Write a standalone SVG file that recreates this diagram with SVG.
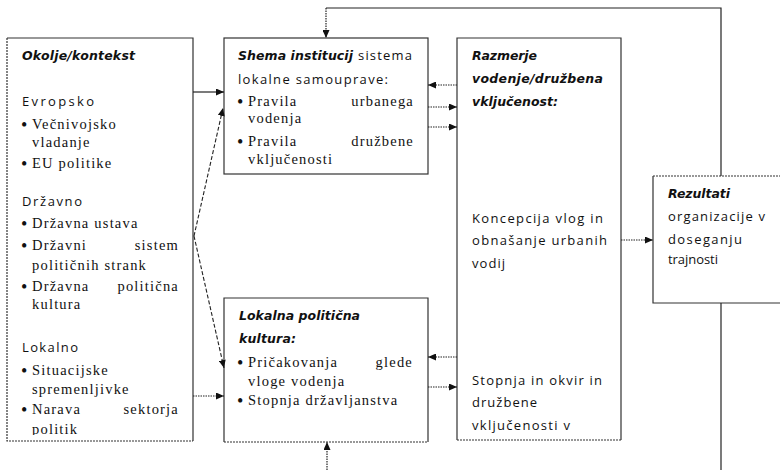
<svg xmlns="http://www.w3.org/2000/svg" width="780" height="470" viewBox="0 0 780 470">
<style>
.bg{fill:#fff}
.edge{fill:none;stroke:#333;stroke-width:1.2}
.dot{fill:none;stroke:#333;stroke-width:1.2;stroke-dasharray:2 1}
.bi{font-family:"DejaVu Sans","Liberation Sans",sans-serif;font-weight:bold;font-style:italic;font-size:12.5px;fill:#111}
.ss{font-family:"Open Sans","Noto Sans","Liberation Sans",sans-serif;font-size:13px;fill:#111}
.sf{font-family:"Liberation Serif","Times New Roman",serif;font-size:14.5px;letter-spacing:1.2px;fill:#111}
.b{font-size:18px;letter-spacing:0}
.e{text-anchor:end}
.c{fill:none;stroke:#222;stroke-width:1.2}
.cd{fill:none;stroke:#222;stroke-width:1.2;stroke-dasharray:1.5 1}
.cdash{fill:none;stroke:#222;stroke-width:1.1;stroke-dasharray:4 2}
</style>
<defs>
<marker id="ah" viewBox="0 0 8 7" markerWidth="8" markerHeight="7" refX="8" refY="3.5" orient="auto" markerUnits="userSpaceOnUse">
<path d="M0,0 L8,3.5 L0,7 z" fill="#111"/>
</marker>
<clipPath id="clipL"><rect x="7" y="38" width="186" height="397"/></clipPath>
</defs>
<rect class="bg" x="0" y="0" width="780" height="470"/>

<g id="okolje">
<rect class="bg" x="7" y="38" width="186" height="403"/>
<path class="edge" d="M7,38 H193 V441"/>
<path class="dot" d="M7,38 V441 H193"/>
<g clip-path="url(#clipL)">
<text class="bi" x="22" y="60" textLength="113">Okolje/kontekst</text>
<text class="ss" x="22" y="106" textLength="72">Evropsko</text>
<text class="sf" y="129"><tspan class="b" x="21" dy="1.5">•</tspan><tspan x="32" dy="-1.5">Večnivojsko</tspan></text>
<text class="sf" x="32" y="147">vladanje</text>
<text class="sf" y="168"><tspan class="b" x="21" dy="1.5">•</tspan><tspan x="32" dy="-1.5">EU politike</tspan></text>
<text class="ss" x="22" y="206" textLength="60">Državno</text>
<text class="sf" y="228"><tspan class="b" x="21" dy="1.5">•</tspan><tspan x="32" dy="-1.5">Državna ustava</tspan></text>
<text class="sf" y="250"><tspan class="b" x="21" dy="1.5">•</tspan><tspan x="32" dy="-1.5">Državni</tspan><tspan class="e" x="179">sistem</tspan></text>
<text class="sf" x="32" y="270">političnih strank</text>
<text class="sf" y="291"><tspan class="b" x="21" dy="1.5">•</tspan><tspan x="32" dy="-1.5">Državna</tspan><tspan class="e" x="179">politična</tspan></text>
<text class="sf" x="32" y="309">kultura</text>
<text class="ss" x="22" y="352" textLength="56">Lokalno</text>
<text class="sf" y="375"><tspan class="b" x="21" dy="1.5">•</tspan><tspan x="32" dy="-1.5">Situacijske</tspan></text>
<text class="sf" x="32" y="394">spremenljivke</text>
<text class="sf" y="414"><tspan class="b" x="21" dy="1.5">•</tspan><tspan x="32" dy="-1.5">Narava</tspan><tspan class="e" x="179">sektorja</tspan></text>
<text class="sf" x="32" y="434">politik</text>
</g>
</g>

<g id="shema">
<rect class="bg" x="224" y="38" width="204" height="136"/>
<rect class="edge" x="224" y="38" width="204" height="136"/>
<text y="60"><tspan class="bi" x="238" textLength="115">Shema institucij</tspan><tspan class="ss" x="358" textLength="54">sistema</tspan></text>
<text class="ss" x="238" y="84" textLength="150">lokalne samouprave:</text>
<text class="sf" y="106"><tspan class="b" x="237" dy="1.5">•</tspan><tspan x="248" dy="-1.5">Pravila</tspan><tspan class="e" x="414">urbanega</tspan></text>
<text class="sf" x="248" y="123">vodenja</text>
<text class="sf" y="146"><tspan class="b" x="237" dy="1.5">•</tspan><tspan x="248" dy="-1.5">Pravila</tspan><tspan class="e" x="414">družbene</tspan></text>
<text class="sf" x="248" y="164">vključenosti</text>
</g>

<g id="lokalna">
<rect class="bg" x="224" y="298" width="204" height="144"/>
<path class="edge" d="M224,442 V298 H428 V442"/>
<path class="dot" d="M224,442 H428"/>
<text class="bi" x="239" y="320" textLength="121">Lokalna politična</text>
<text class="bi" x="239" y="343" textLength="57">kultura:</text>
<text class="sf" y="367"><tspan class="b" x="237" dy="1.5">•</tspan><tspan x="248" dy="-1.5">Pričakovanja</tspan><tspan class="e" x="413">glede</tspan></text>
<text class="sf" x="248" y="386">vloge vodenja</text>
<text class="sf" y="405"><tspan class="b" x="237" dy="1.5">•</tspan><tspan x="248" dy="-1.5">Stopnja državljanstva</tspan></text>
</g>

<g id="razmerje">
<rect class="bg" x="457" y="38" width="164" height="402"/>
<path class="edge" d="M457,440 V38 H621 V440"/>
<path class="dot" d="M457,440 H621"/>
<text class="bi" x="472" y="60" textLength="65">Razmerje</text>
<text class="bi" x="472" y="83" textLength="131">vodenje/družbena</text>
<text class="bi" x="472" y="106" textLength="86">vključenost:</text>
<text class="ss" x="472" y="223" textLength="131">Koncepcija vlog in</text>
<text class="ss" x="472" y="245" textLength="135">obnašanje urbanih</text>
<text class="ss" x="472" y="268" textLength="33">vodij</text>
<text class="ss" x="472" y="385" textLength="130">Stopnja in okvir in</text>
<text class="ss" x="472" y="407" textLength="65">družbene</text>
<text class="ss" x="472" y="430" textLength="98">vključenosti v</text>
</g>

<g id="rezultati">
<rect class="bg" x="653" y="176" width="135" height="127"/>
<path class="edge" d="M653,176 V303 H788"/>
<path class="dot" d="M653,176 H788"/>
<text class="bi" x="668" y="198" textLength="62">Rezultati</text>
<text class="ss" x="668" y="221" textLength="97">organizacije v</text>
<text class="ss" x="668" y="244" textLength="74">doseganju</text>
<text class="ss" x="668" y="264" textLength="50">trajnosti</text>
</g>

<g id="connectors">
<path class="c" d="M193,92 H224" marker-end="url(#ah)"/>
<path class="cdash" d="M194,236 L223,108" marker-end="url(#ah)"/>
<path class="cdash" d="M194,236 L224,368" marker-end="url(#ah)"/>
<path class="cd" d="M193,396 H224" marker-end="url(#ah)"/>
<path class="cd" d="M457,85 H428" marker-end="url(#ah)"/>
<path class="cd" d="M428,107 H457" marker-end="url(#ah)"/>
<path class="cd" d="M428,127 H457" marker-end="url(#ah)"/>
<path class="cd" d="M457,357 H428" marker-end="url(#ah)"/>
<path class="cd" d="M428,387 H457" marker-end="url(#ah)"/>
<path class="cd" d="M621,240 H653" marker-end="url(#ah)"/>
<path class="c" d="M721,176 V8 H326"/>
<path class="cd" d="M326,8 V38" marker-end="url(#ah)"/>
<path class="c" d="M721,303 V470"/>
<path class="cd" d="M327,470 V442" marker-end="url(#ah)"/>
</g>
</svg>
